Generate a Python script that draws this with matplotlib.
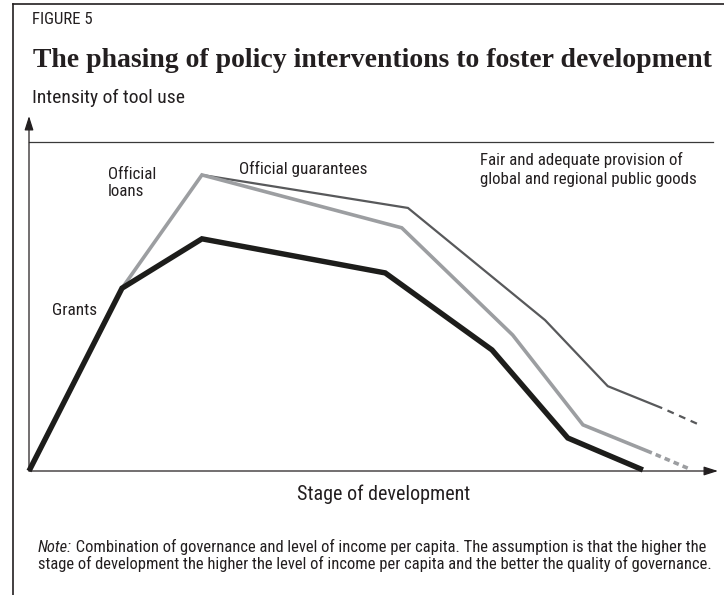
import matplotlib
matplotlib.use("Agg")
import matplotlib.pyplot as plt
from matplotlib import font_manager as fm
from matplotlib.lines import Line2D

# ---------------- data (stage of development 0-100, intensity 0-100) -------------
grants_x = [0.0, 13.5, 25.1, 51.7, 67.2, 78.2, 89.1]
grants_y = [0.0, 51.5, 65.4, 55.8, 34.1, 9.3, 0.3]

loans_x = [13.5, 25.1, 54.1, 70.2, 80.4, 90.4]
loans_y = [51.5, 83.4, 68.5, 38.3, 13.0, 5.1]
loans_tail_x = [90.4, 95.6]
loans_tail_y = [5.1, 0.8]

guar_x = [25.1, 55.0, 74.9, 84.0, 91.9]
guar_y = [83.4, 74.1, 42.5, 23.9, 17.7]
guar_tail_x = [91.9, 97.1]
guar_tail_y = [17.7, 13.2]

ceiling_x = [0.0, 99.3]
ceiling_y = [92.7, 92.7]

# ---------------- fonts --------------------------------------------------------
names = {f.name for f in fm.fontManager.ttflist}
COND = None
for cand in ["Roboto Condensed", "Liberation Sans Narrow", "Open Sans Condensed",
             "Arial Narrow", "DejaVu Sans Condensed"]:
    if cand in names:
        COND = cand
        break
cond_kw = {}
if COND is None:
    has_dv_cond = any(f.name == "DejaVu Sans" and "condensed" in str(f.stretch)
                      for f in fm.fontManager.ttflist)
    COND = "DejaVu Sans" if has_dv_cond else "Liberation Sans"
    if has_dv_cond:
        cond_kw = {"fontstretch": "condensed"}
SERIF = "Liberation Serif" if "Liberation Serif" in names else "DejaVu Serif"

TXT = "#231f20"
W, H = 724, 595
fig = plt.figure(figsize=(W / 100, H / 100), dpi=100)
fig.patch.set_facecolor("white")

# axes: origin at px (29, 471), x tip at 718, y tip at 116
ax = fig.add_axes([29 / W, (H - 471) / H, 689 / W, 355 / H])
ax.set_xlim(0, 100)
ax.set_ylim(0, 100)
ax.axis("off")

# series
ax.plot(guar_x, guar_y, color="#58595b", lw=1.6, solid_joinstyle="miter",
        solid_capstyle="butt", clip_on=False)
ax.plot(guar_tail_x, guar_tail_y, color="#58595b", lw=1.6,
        ls=(3.1, (3.1, 2.6)), dash_capstyle="butt", clip_on=False)
ax.plot(loans_x, loans_y, color="#9c9ea1", lw=2.6, solid_joinstyle="miter",
        solid_capstyle="butt", clip_on=False)
ax.plot(loans_tail_x, loans_tail_y, color="#9c9ea1", lw=2.6,
        ls=(1.55, (1.55, 1.15)), dash_capstyle="butt", clip_on=False)
ax.plot(grants_x, grants_y, color="#1d1d1b", lw=3.9, solid_joinstyle="miter",
        solid_capstyle="butt", clip_on=False)

# ceiling line
ax.plot(ceiling_x, ceiling_y, color="#3a3a3a", lw=0.9, clip_on=False)

# axes with arrows
arrow = dict(arrowstyle="-|>,head_length=0.85,head_width=0.27", lw=0.9,
             color=TXT, shrinkA=0, shrinkB=0, mutation_scale=10)
ax.annotate("", xy=(100, 0), xytext=(0, 0), xycoords="data", arrowprops=arrow,
            annotation_clip=False)
ax.annotate("", xy=(0, 100), xytext=(0, 0), xycoords="data", arrowprops=arrow,
            annotation_clip=False)

# frame (top and left)
fig.add_artist(Line2D([13 / W, 1.0], [1 - 4 / H, 1 - 4 / H], color="#231f20",
                      lw=1.2, transform=fig.transFigure))
fig.add_artist(Line2D([13 / W, 13 / W], [0.0, 1 - 4 / H], color="#231f20",
                      lw=1.2, transform=fig.transFigure))

# ---------------- texts -------------------------------------------------------
renderer = fig.canvas.get_renderer()


def put(s, x, ybase, width=None, size=10, ha="left", family=None, **kw):
    fam = family or COND
    extra = dict(cond_kw) if family is None else {}
    extra.update(kw)
    t = fig.text(x / W, 1 - ybase / H, s, ha=ha, va="baseline", fontsize=size,
                 family=fam, color=TXT, **extra)
    if width is not None:
        w = t.get_window_extent(renderer).width
        t.set_fontsize(size * width / w)
    return t


def fit_size(s, width, family=None, **kw):
    t = put(s, 0, 0, width=width, family=family, **kw)
    sz = t.get_fontsize()
    t.remove()
    return sz


put("FIGURE 5", 32, 24, width=61)
put("The phasing of policy interventions to foster development", 33, 67,
    width=683, family=SERIF, fontweight="bold")
put("Intensity of tool use", 32, 103, width=151)

put("Official guarantees", 239, 174, width=128)
s_ol = fit_size("Official", 48)
put("Official", 108, 179, size=s_ol)
put("loans", 108, 196, size=s_ol)
put("Grants", 52, 315, width=45)
s_fair = fit_size("global and regional public goods", 217)
put("Fair and adequate provision of", 480, 165, size=s_fair)
put("global and regional public goods", 480, 184, size=s_fair)

put("Stage of development", 384, 500, width=172, ha="center")

line2 = ("stage of development the higher the level of income per capita "
         "and the better the quality of governance.")
s_note = fit_size(line2, 666)
tn = put("Note:", 38, 552, size=s_note, style="italic")
wn = tn.get_window_extent(renderer).width
put(" Combination of governance and level of income per capita. The assumption "
    "is that the higher the", 38 + wn, 552, size=s_note)
put(line2, 38, 569, size=s_note)

fig.savefig("out.png", dpi=100, facecolor="white")
